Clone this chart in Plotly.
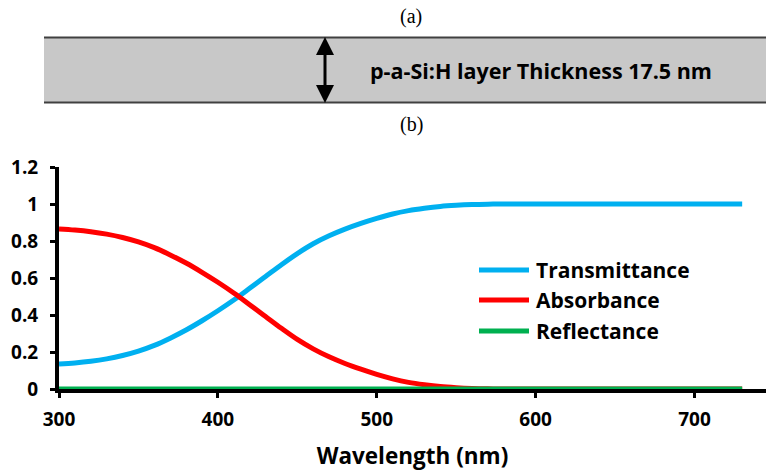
import plotly.graph_objects as go

# ---- data ----
wavelength = [300, 310, 320, 330, 340, 350, 360, 370, 380, 390, 400, 410, 420, 430, 440, 450,
              460, 470, 480, 490, 500, 510, 520, 530, 540, 550, 560, 570, 580, 600, 630, 660, 700, 730]
transmittance = [0.135, 0.141, 0.150, 0.163, 0.181, 0.205, 0.236, 0.275, 0.319, 0.369, 0.423, 0.481,
                 0.544, 0.608, 0.672, 0.732, 0.785, 0.828, 0.864, 0.895, 0.922, 0.946, 0.964, 0.977,
                 0.987, 0.993, 0.997, 0.999, 1.0, 1.0, 1.0, 1.0, 1.0, 1.0]
absorbance = [0.865, 0.859, 0.850, 0.837, 0.819, 0.795, 0.764, 0.725, 0.681, 0.631, 0.577, 0.519,
              0.456, 0.392, 0.328, 0.268, 0.217, 0.174, 0.138, 0.107, 0.079, 0.055, 0.036, 0.023,
              0.013, 0.007, 0.003, 0.001, 0.0, 0.0, 0.0, 0.0, 0.0, 0.0]
reflectance = [0.0] * len(wavelength)

series_names = ["Transmittance", "Absorbance", "Reflectance"]
series_values = [transmittance, absorbance, reflectance]
series_colors = ["#00b0f0", "#ff0000", "#00b050"]

x_ticks = [300, 400, 500, 600, 700]
y_ticks = [0, 0.2, 0.4, 0.6, 0.8, 1, 1.2]
y_tick_text = ["0", "0.2", "0.4", "0.6", "0.8", "1", "1.2"]

W, H = 766, 472
L, R, T, B = 59, 0, 167, 83
PW, PH = W - L - R, H - T - B

def px(x):
    return (x - L) / PW

def py(y):
    return (H - B - y) / PH

FONT = "Open Sans"

fig = go.Figure()
for name, vals, col in zip(series_names, series_values, series_colors):
    fig.add_trace(go.Scatter(x=wavelength, y=vals, mode="lines", name=name,
                             line=dict(color=col, width=5, shape="spline", smoothing=1.0),
                             showlegend=False))

shapes = []
annotations = []

# top layer band
shapes.append(dict(type="rect", xref="paper", yref="paper", x0=px(44), x1=px(766), y0=py(103), y1=py(37),
                   fillcolor="#c8c8c8", line=dict(width=0), layer="below"))
for yy in (37.5, 102.5):
    shapes.append(dict(type="line", xref="paper", yref="paper", x0=px(44), x1=px(766), y0=py(yy), y1=py(yy),
                       line=dict(color="#404040", width=2)))
# double-headed arrow
shapes.append(dict(type="line", xref="paper", yref="paper", x0=px(325), x1=px(325), y0=py(50), y1=py(90),
                   line=dict(color="black", width=3)))
shapes.append(dict(type="path", xref="paper", yref="paper",
                   path=f"M {px(325)},{py(37)} L {px(334)},{py(55)} L {px(316)},{py(55)} Z",
                   fillcolor="black", line=dict(width=0)))
shapes.append(dict(type="path", xref="paper", yref="paper",
                   path=f"M {px(325)},{py(103)} L {px(334)},{py(85)} L {px(316)},{py(85)} Z",
                   fillcolor="black", line=dict(width=0)))

annotations.append(dict(x=px(541), y=py(70), xref="paper", yref="paper", showarrow=False,
                        text="<b>p-a-Si:H layer Thickness 17.5 nm</b>", xanchor="center", yanchor="middle",
                        font=dict(family=FONT, size=21.5, color="black")))
annotations.append(dict(x=px(411), y=py(16), xref="paper", yref="paper", showarrow=False,
                        text="(a)", xanchor="center", yanchor="middle",
                        font=dict(family="Liberation Serif", size=20, color="black")))
annotations.append(dict(x=px(411), y=py(124), xref="paper", yref="paper", showarrow=False,
                        text="(b)", xanchor="center", yanchor="middle",
                        font=dict(family="Liberation Serif", size=20, color="black")))

# custom legend
leg_rows = [270, 300, 331]
for name, col, yy in zip(series_names, series_colors, leg_rows):
    shapes.append(dict(type="line", xref="paper", yref="paper", x0=px(479), x1=px(529), y0=py(yy), y1=py(yy),
                       line=dict(color=col, width=5)))
    annotations.append(dict(x=px(534), y=py(yy), xref="paper", yref="paper", showarrow=False,
                            text=f"<b>{name}</b>", xanchor="left", yanchor="middle",
                            font=dict(family=FONT, size=21, color="black")))

fig.update_layout(
    width=W, height=H,
    margin=dict(l=L, r=R, t=T, b=B, pad=0),
    paper_bgcolor="white", plot_bgcolor="white",
    shapes=shapes, annotations=annotations,
    showlegend=False,
    xaxis=dict(range=[300, 745], tickvals=x_ticks, ticktext=[f"<b>{v}</b>" for v in x_ticks],
               showgrid=False, zeroline=False, showline=True, linecolor="black", linewidth=4,
               ticks="outside", ticklen=5, tickwidth=3, tickcolor="black", ticklabelstandoff=5,
               tickfont=dict(family=FONT, size=19, color="black"),
               title=dict(text="<b>Wavelength (nm)</b>", standoff=18,
                          font=dict(family=FONT, size=22.5, color="black"))),
    yaxis=dict(range=[0, 1.2], tickvals=y_ticks, ticktext=[f"<b>{t}</b>" for t in y_tick_text],
               showgrid=False, zeroline=False, showline=True, linecolor="black", linewidth=4,
               ticks="outside", ticklen=5, tickwidth=3, tickcolor="black", ticklabelstandoff=8,
               tickfont=dict(family=FONT, size=19, color="black")),
)

fig.write_html("out.html")
